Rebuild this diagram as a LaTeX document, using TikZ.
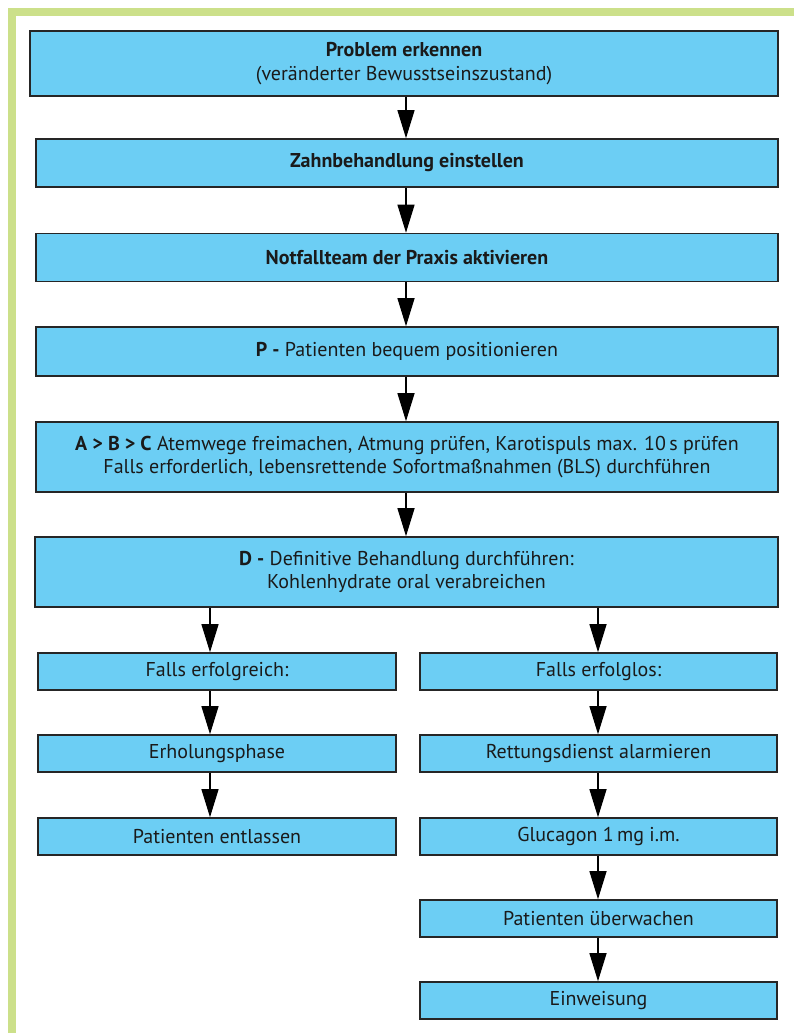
\documentclass[tikz,border=0pt]{standalone}
\usepackage{fontspec}
\setmainfont{PT Sans}
\usetikzlibrary{arrows.meta}
\definecolor{boxblue}{RGB}{108,206,244}
\definecolor{framegreen}{RGB}{204,224,138}
\definecolor{txt}{RGB}{26,26,26}
\begin{document}
\begin{tikzpicture}[x=1pt,y=-1pt,
  box/.style={draw=black!85,line width=1.6pt,fill=boxblue,text=txt,align=center,
    inner sep=0pt,font=\fontsize{20}{23.5}\selectfont},
  arr/.style={line width=1.2pt,-{Triangle[width=17pt,length=28pt]}}]
\useasboundingbox (0,0) rectangle (794,1033);
\fill[white] (0,0) rectangle (794,1033);
\draw[framegreen,line width=8pt] (12,1040) -- (12,12) -- (800,12);
% main column
\node[box,minimum width=748pt,minimum height=65pt] (b1) at (404,63.5)
  {\textbf{Problem erkennen}\\(veränderter Bewusstseinszustand)};
\node[box,minimum width=742pt,minimum height=48pt] (b2) at (407,163)
  {\textbf{Zahnbehandlung einstellen}};
\node[box,minimum width=742pt,minimum height=48pt] (b3) at (407,257.5)
  {\textbf{Notfallteam der Praxis aktivieren}};
\node[box,minimum width=742pt,minimum height=49pt] (b4) at (407,351.5)
  {\textbf{P -} Patienten bequem positionieren};
\node[box,minimum width=742pt,minimum height=70pt] (b5) at (407,457)
  {\textbf{A > B > C} Atemwege freimachen, Atmung prüfen, Karotispuls max. 10\,s prüfen\\
   Falls erforderlich, lebensrettende Sofortmaßnahmen (BLS) durchführen};
\node[box,minimum width=743pt,minimum height=70pt] (b6) at (406.5,572)
  {\textbf{D -} Definitive Behandlung durchführen:\\Kohlenhydrate oral verabreichen};
% left column
\node[box,minimum width=358pt,minimum height=37pt] (l1) at (217,671.5) {Falls erfolgreich:};
\node[box,minimum width=358pt,minimum height=37pt] (l2) at (217,753.5) {Erholungsphase};
\node[box,minimum width=358pt,minimum height=37pt] (l3) at (217,836.5) {Patienten entlassen};
% right column
\node[box,minimum width=357pt,minimum height=37pt] (r1) at (598.5,671.5) {Falls erfolglos:};
\node[box,minimum width=357pt,minimum height=37pt] (r2) at (598.5,753.5) {Rettungsdienst alarmieren};
\node[box,minimum width=357pt,minimum height=37pt] (r3) at (598.5,836.5) {Glucagon 1\,mg i.m.};
\node[box,minimum width=357pt,minimum height=37pt] (r4) at (598.5,918.5) {Patienten überwachen};
\node[box,minimum width=357pt,minimum height=37pt] (r5) at (598.5,1000.5) {Einweisung};
\coordinate (mx) at (406,0);
\coordinate (lx) at (210,0);
\coordinate (rx) at (598,0);
% arrows
\draw[arr] (b1.south -| mx) -- (b2.north -| mx);
\draw[arr] (b2.south -| mx) -- (b3.north -| mx);
\draw[arr] (b3.south -| mx) -- (b4.north -| mx);
\draw[arr] (b4.south -| mx) -- (b5.north -| mx);
\draw[arr] (b5.south -| mx) -- (b6.north -| mx);
\draw[arr] (b6.south -| lx) -- (l1.north -| lx);
\draw[arr] (l1.south -| lx) -- (l2.north -| lx);
\draw[arr] (l2.south -| lx) -- (l3.north -| lx);
\draw[arr] (b6.south -| rx) -- (r1.north -| rx);
\draw[arr] (r1.south -| rx) -- (r2.north -| rx);
\draw[arr] (r2.south -| rx) -- (r3.north -| rx);
\draw[arr] (r3.south -| rx) -- (r4.north -| rx);
\draw[arr] (r4.south -| rx) -- (r5.north -| rx);
\end{tikzpicture}
\end{document}
